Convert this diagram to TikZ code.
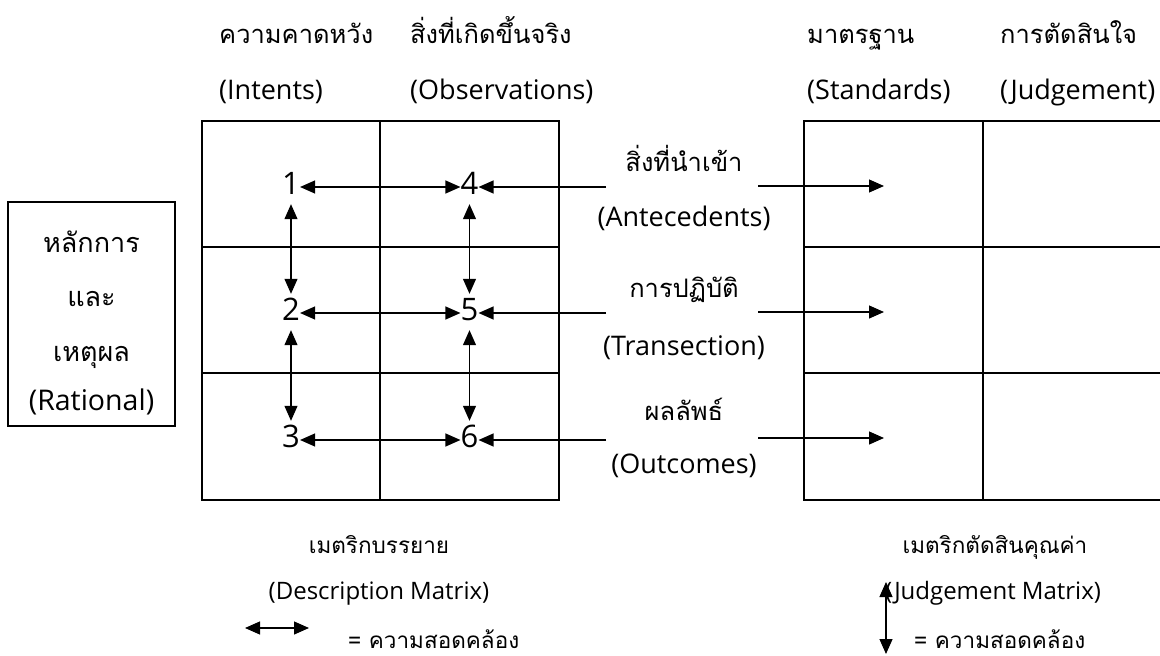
\documentclass[tikz,border=0pt]{standalone}
\usepackage{fontspec}
\setmainfont{Open Sans}
\newfontfamily\thai[Script=Thai]{Loma}
\usetikzlibrary{arrows.meta}
\begin{document}
\begin{tikzpicture}[x=1pt,y=-1pt,
  gridline/.style={line width=1.8pt},
  tip/.tip={Triangle[length=15pt,width=13pt]},
  arr/.style={line width=1.2pt,-tip},
  darr/.style={line width=1.2pt,tip-tip},
  lat/.style={font=\fontsize{27}{30}\selectfont,inner sep=0pt},
  th/.style={font=\thai\fontsize{25.5}{30}\selectfont,inner sep=0pt},
  thbox/.style={font=\thai\fontsize{27}{30}\selectfont,inner sep=0pt},
  latsm/.style={font=\fontsize{24}{28}\selectfont,inner sep=0pt},
  thsm/.style={font=\thai\fontsize{22.5}{26}\selectfont,inner sep=0pt},
  num/.style={font=\fontsize{31}{34}\selectfont,inner sep=0pt,text height=24pt,text depth=10pt}]
\useasboundingbox (0,0) rectangle (1160,656);
% description matrix
\draw[gridline] (202,121) rectangle (559,500);
\draw[gridline] (380,121) -- (380,500);
\draw[gridline] (202,247) -- (559,247);
\draw[gridline] (202,373) -- (559,373);
% judgement matrix
\draw[gridline] (1170,121) -- (804,121) -- (804,500) -- (1170,500);
\draw[gridline] (983,121) -- (983,500);
\draw[gridline] (804,247) -- (1170,247);
\draw[gridline] (804,373) -- (1170,373);
% headers
\node[th,anchor=base west] (hi) at (219,43) {ความคาดหวัง};
\node[lat,anchor=base west] (hil) at (219,99) {(Intents)};
\node[th,anchor=base west] (ho) at (410,43) {สิ่งที่เกิดขึ้นจริง};
\node[lat,anchor=base west] (hol) at (410,99) {(Observations)};
\node[th,anchor=base west] (hs) at (807,43) {มาตรฐาน};
\node[lat,anchor=base west] (hsl) at (807,99) {(Standards)};
\node[th,anchor=base west] (hj) at (1000,43) {การตัดสินใจ};
\node[lat,anchor=base west] (hjl) at (1000,99) {(Judgement)};
% rational box
\node[draw,line width=1.5pt,minimum width=167pt,minimum height=224pt,inner sep=0pt] (rat) at (91.5,314) {};
\node[thbox,anchor=base] (r1) at (91.5,252) {หลักการ};
\node[thbox,anchor=base] (r2) at (91.5,306) {และ};
\node[thbox,anchor=base] (r3) at (91.5,361) {เหตุผล};
\node[lat,font=\fontsize{28.5}{32}\selectfont,anchor=base] (r4) at (91.5,410) {(Rational)};
% numbers
\node[num] (n1) at (291,187) {1};
\node[num] (n2) at (291,313) {2};
\node[num] (n3) at (291,440) {3};
\node[num] (n4) at (469.5,187) {4};
\node[num] (n5) at (469.5,313) {5};
\node[num] (n6) at (469.5,440) {6};
\draw[darr] (n1) -- (n4);
\draw[darr] (n2) -- (n5);
\draw[darr] (n3) -- (n6);
\draw[darr,shorten >=2pt] (n1) -- (n2);
\draw[darr,shorten >=2pt] (n2) -- (n3);
\draw[darr,shorten >=2pt] (n4) -- (n5);
\draw[darr,shorten >=2pt] (n5) -- (n6);
% middle labels
\node[th,anchor=base] (a1) at (684,171) {สิ่งที่นำเข้า};
\node[lat,anchor=base] (a2) at (684,226) {(Antecedents)};
\node[th,anchor=base] (t1) at (684,297) {การปฏิบัติ};
\node[lat,anchor=base] (t2) at (684,355) {(Transection)};
\node[th,anchor=base] (o1) at (684,420) {ผลลัพธ์};
\node[lat,anchor=base] (o2) at (684,473) {(Outcomes)};
\coordinate (aL) at (606,187); \coordinate (aR) at (758,186); \coordinate (aE) at (884,186);
\coordinate (tL) at (606,313); \coordinate (tR) at (758,312); \coordinate (tE) at (884,312);
\coordinate (oL) at (606,440); \coordinate (oR) at (758,438); \coordinate (oE) at (884,438);
\draw[arr] (aL) -- (n4);
\draw[arr] (tL) -- (n5);
\draw[arr] (oL) -- (n6);
\draw[arr] (aR) -- (aE);
\draw[arr] (tR) -- (tE);
\draw[arr] (oR) -- (oE);
% bottom captions
\node[thsm,anchor=base] (dm1) at (379,553) {เมตริกบรรยาย};
\node[latsm,anchor=base] (dm2) at (379,599) {(Description Matrix)};
\node[thsm,anchor=base] (jm1) at (995,553) {เมตริกตัดสินคุณค่า};
\node[latsm,anchor=base] (jm2) at (993,599) {(Judgement Matrix)};
% legends
\coordinate (lg1a) at (245,628); \coordinate (lg1b) at (309,628);
\draw[darr] (lg1a) -- (lg1b);
\node[thsm,anchor=base west] (lt1) at (348,648) {= ความสอดคล้อง};
\coordinate (lg2a) at (886,582); \coordinate (lg2b) at (886,654);
\draw[darr] (lg2a) -- (lg2b);
\node[thsm,anchor=base west] (lt2) at (914,648) {= ความสอดคล้อง};
\end{tikzpicture}
\end{document}
